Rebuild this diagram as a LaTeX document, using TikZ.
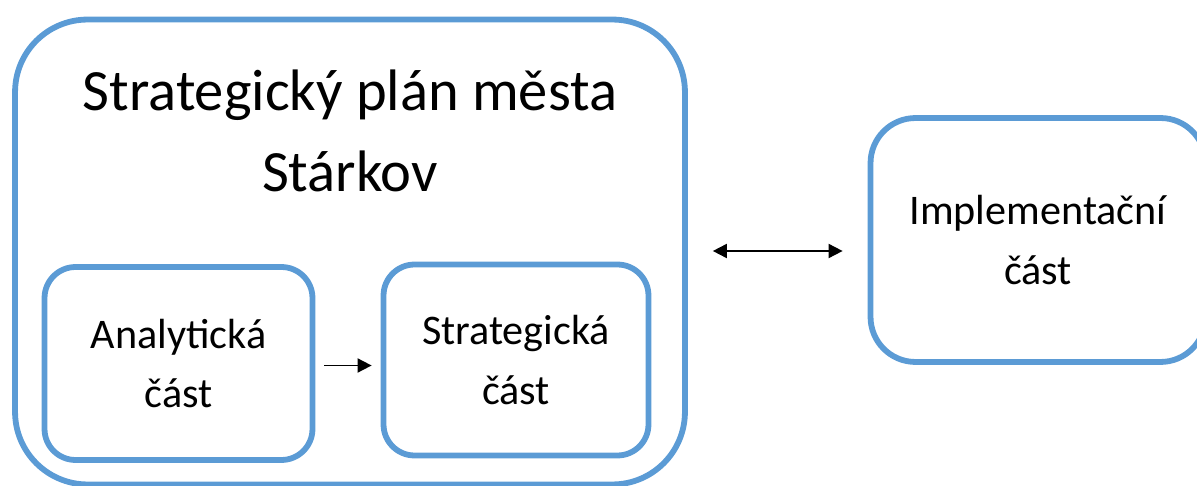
\documentclass[tikz,border=0pt]{standalone}
\usepackage{fontspec}
\setmainfont{Carlito}
\usetikzlibrary{positioning, arrows.meta}

\definecolor{boxblue}{HTML}{5B9BD5}

\begin{document}
\begin{tikzpicture}[
    x=0.02cm, y=-0.02cm,
    % GLOBAL CFG
    >={Triangle[length=8pt, width=8pt]},
    % Styles
    part/.style={% For the rounded boxes
        rectangle,
        draw=boxblue,
        line width=3.3pt,
        align=center,
        font=\fontsize{24}{34}\selectfont,
        },
    title/.style={% For the big heading
        align=center,
        font=\fontsize{33.3}{46}\selectfont,
        },
    link/.style={% Arrows between the parts
        line width=1pt,
        },
    ]

    \useasboundingbox (0,0) rectangle (1197,486);
    \clip (0,0) rectangle (1197,486);

    % The whole plan
    \node [part, rounded corners=1.45cm, minimum width=13.4cm, minimum height=9.3cm] (plan) at (350,252) {};
    \node [title] (name) at (350,131) {Strategický plán města\\Stárkov};

    % Inner parts
    \node [part, rounded corners=0.62cm, minimum width=5.36cm, minimum height=3.86cm] (analytic) at (178.5,363.5) {Analytická\\část};
    \node [part, rounded corners=0.62cm, minimum width=5.3cm, minimum height=3.82cm] (strategic) at (516,360) {Strategická\\část};

    % Outside part
    \node [part, rounded corners=0.9cm, minimum width=6.7cm, minimum height=4.88cm] (impl) at (1038,240) {Implementační\\část};

    % Arrows
    \draw [->, link, shorten <=0.18cm, shorten >=0.18cm] ([yshift=-0.04cm]analytic.east) -- ([yshift=-0.04cm]analytic.east -| strategic.west);
    \draw [<->, link, shorten <=0.5cm, shorten >=0.5cm] ([yshift=-0.22cm]plan.east |- impl.center) -- ([yshift=-0.22cm]impl.west);

\end{tikzpicture}
\end{document}
